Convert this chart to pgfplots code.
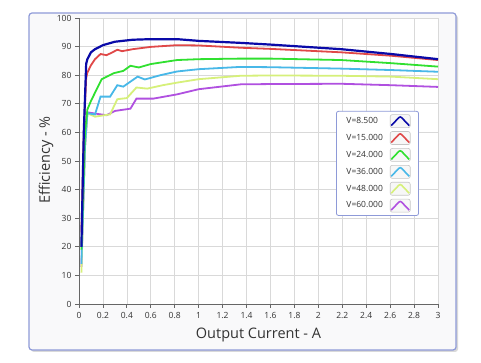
\documentclass[border=0pt]{standalone}
\usepackage{pgfplots}
\pgfplotsset{compat=1.18}
\usepackage{fontspec}
\setmainfont{Open Sans}
\definecolor{cBlue}{HTML}{0A0AA8}
\definecolor{cRed}{HTML}{E04848}
\definecolor{cGreen}{HTML}{30E030}
\definecolor{cCyan}{HTML}{48B8E8}
\definecolor{cYel}{HTML}{D6F07A}
\definecolor{cPur}{HTML}{B050E0}
\definecolor{frameC}{HTML}{8E9AD8}
\definecolor{gridC}{HTML}{D9D9D9}
\definecolor{txtC}{HTML}{333333}
\begin{document}
\begin{tikzpicture}[x=1pt,y=1pt]
\useasboundingbox (0,0) rectangle (481,363);
\fill[white] (0,0) rectangle (481,363);
\fill[gray!30] (31,11) [rounded corners=3pt] rectangle (458,348);
\draw[rounded corners=3pt, draw=frameC, line width=1.2pt, fill={rgb,255:red,249;green,249;blue,250}] (29,13) rectangle (456,350);
\begin{axis}[
  at={(79pt,59pt)}, anchor=origin,
  width=359pt, height=286pt, scale only axis,
  xmin=0, xmax=3, ymin=0, ymax=100,
  xtick={0,0.2,0.4,0.6,0.8,1,1.2,1.4,1.6,1.8,2,2.2,2.4,2.6,2.8,3},
  xticklabels={0,0.2,0.4,0.6,0.8,1,1.2,1.4,1.6,1.8,2,2.2,2.4,2.6,2.8,3},
  ytick={0,10,...,100},
  axis x line=bottom, axis y line=left,
  axis line style={draw=gray!80!black, line width=0.8pt, -},
  tick style={draw=gray!80!black, line width=0.8pt},
  tick align=outside, major tick length=4pt,
  grid=major, grid style={draw=gridC, line width=0.7pt},
  axis background/.style={fill=white},
  /pgf/number format/assume math mode=true,
  ticklabel style={font=\fontsize{8.5}{10}\selectfont, text=txtC},
  xticklabel style={yshift=-1pt},
  xlabel={Output Current - A}, ylabel={Efficiency - \%},
  label style={font=\fontsize{14.5}{16}\selectfont, text=txtC},
  xlabel style={at={(axis description cs:0.5,-0.108)}, anchor=center},
  ylabel style={at={(axis description cs:-0.092,0.503)}, anchor=center},
  clip=false,
  reverse legend,
  legend plot pos=right,
  legend cell align=left,
  legend style={at={(rel axis cs:0.716,0.675)}, anchor=north west,
    draw=frameC, line width=0.8pt, rounded corners=2pt, fill=white,
    font=\fontsize{8.5}{10}\selectfont, text=txtC,
    row sep=3.3pt, column sep=5pt, inner xsep=8pt, inner ysep=3pt},
  legend image code/.code={%
    \draw[draw=gray!45, fill=gray!6, line width=0.6pt, solid] (0pt,-6.5pt) rectangle (20pt,6.5pt);
    \draw[line width=1.6pt] (1pt,-4.5pt) -- (10pt,5pt) -- (19pt,-4.5pt);
  },
]
\addplot[cPur, line width=1.8pt] coordinates {
(0.02,13) (0.05,55) (0.07,67) (0.18,66.3) (0.23,66.0) (0.30,67.5) (0.43,68.3) (0.48,71.8) (0.62,71.8) (0.82,73.3) (1.0,75.1) (1.35,76.8) (1.6,76.9) (2.19,77.0) (2.61,76.5) (3.0,75.9)};
\addlegendentry{V=60.000}
\addplot[cYel, line width=1.8pt] coordinates {
(0.02,11) (0.05,55) (0.07,66.7) (0.134,65.5) (0.26,66.3) (0.32,71.6) (0.40,72.0) (0.48,75.7) (0.57,75.3) (0.7,76.5) (0.82,77.4) (1.0,78.6) (1.35,79.8) (1.6,79.9) (2.19,79.8) (2.61,79.5) (3.0,78.6)};
\addlegendentry{V=48.000}
\addplot[cCyan, line width=1.8pt] coordinates {
(0.02,14) (0.05,55) (0.07,66.7) (0.134,66.3) (0.18,72.5) (0.26,72.5) (0.32,76.5) (0.37,76.0) (0.49,79.5) (0.55,78.5) (0.68,80.0) (0.82,81.3) (1.0,82.1) (1.35,82.9) (1.6,82.8) (2.19,82.3) (2.61,81.8) (3.0,81.2)};
\addlegendentry{V=36.000}
\addplot[cGreen, line width=1.8pt] coordinates {
(0.02,19) (0.05,60) (0.07,68) (0.10,71) (0.134,73.9) (0.19,78.6) (0.29,80.7) (0.37,81.5) (0.43,83.3) (0.5,82.7) (0.6,83.9) (0.82,85.3) (1.0,85.6) (1.35,85.8) (1.6,85.8) (2.19,85.3) (2.61,84.2) (3.0,83.0)};
\addlegendentry{V=24.000}
\addplot[cRed, line width=1.8pt] coordinates {
(0.02,25) (0.04,60) (0.06,79) (0.07,80.9) (0.10,83.5) (0.134,85.6) (0.18,87.4) (0.23,87.0) (0.28,88.0) (0.32,88.9) (0.36,88.4) (0.45,89.1) (0.6,89.9) (0.82,90.5) (1.0,90.4) (1.35,89.6) (1.6,89.2) (2.19,88.0) (2.61,86.8) (3.0,85.3)};
\addlegendentry{V=15.000}
\addplot[cBlue, line width=2.2pt] coordinates {
(0.02,20) (0.04,60) (0.06,84) (0.07,85.6) (0.10,88) (0.134,89.1) (0.2,90.5) (0.3,91.7) (0.45,92.4) (0.6,92.6) (0.82,92.6) (1.0,92.0) (1.35,91.3) (1.6,90.7) (2.19,89.1) (2.61,87.4) (3.0,85.6)};
\addlegendentry{V=8.500}
\end{axis}
\end{tikzpicture}
\end{document}
